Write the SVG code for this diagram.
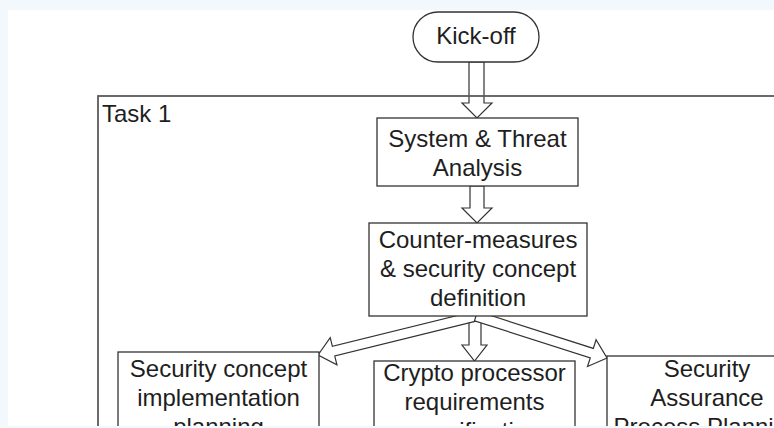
<svg xmlns="http://www.w3.org/2000/svg" width="774" height="428" viewBox="0 0 774 428">
  <style>
    .box { fill: #ffffff; stroke: #333333; stroke-width: 1.3; }
    .frame { fill: none; stroke: #5a5a5a; stroke-width: 1.8; }
    .arrow { fill: #ffffff; stroke: #333333; stroke-width: 1.2; stroke-linejoin: miter; }
    text { font-family: "Liberation Sans", Arial, sans-serif; font-size: 24px; fill: #1e1e1e; }
    .c { text-anchor: middle; }
  </style>
  <defs>
    <clipPath id="page">
      <rect x="8" y="10" width="766" height="416"/>
    </clipPath>
  </defs>

  <!-- surround and page -->
  <rect x="0" y="0" width="774" height="428" fill="#f3f8fd"/>
  <rect x="8" y="10" width="766" height="416" fill="#ffffff"/>

  <g clip-path="url(#page)">
    <!-- block arrows between steps -->
    <g id="connectors">
      <path class="arrow" d="M469,62 V103 H462 L477,118 L492,103 H484 V62 Z"/>
      <path class="arrow" d="M470,186 V208 H462 L477,223 L492,208 H484 V186 Z"/>
      <path class="arrow" d="M469,316 V345 H462 L474.5,361 L487,345 H481 V316 Z"/>
      <path class="arrow" transform="translate(476,316) rotate(166.13)" d="M0,-5 H146.7 V-14 L162.7,0 L146.7,14 V5 H0 Z"/>
      <path class="arrow" transform="translate(476,316) rotate(17.78)" d="M0,-5 H121.6 V-14 L137.6,0 L121.6,14 V5 H0 Z"/>
    </g>

    <!-- task container -->
    <g id="task1">
      <rect class="frame" x="98" y="96" width="720" height="360"/>
      <text x="102" y="122">Task 1</text>
    </g>

    <g id="kickoff">
      <rect class="box" x="413" y="12" width="126" height="50" rx="25" ry="25"/>
      <text class="c" x="476" y="44">Kick-off</text>
    </g>

    <g id="threat-analysis">
      <rect class="box" x="377" y="118" width="201" height="68"/>
      <text class="c" x="477.5" y="147">System &amp; Threat</text>
      <text class="c" x="477.5" y="176">Analysis</text>
    </g>

    <g id="countermeasures">
      <rect class="box" x="369" y="223" width="218" height="93"/>
      <text class="c" x="478" y="248">Counter-measures</text>
      <text class="c" x="478" y="277">&amp; security concept</text>
      <text class="c" x="478" y="306">definition</text>
    </g>

    <g id="impl-planning">
      <rect class="box" x="118" y="352" width="201" height="100"/>
      <text class="c" x="218.5" y="377">Security concept</text>
      <text class="c" x="218.5" y="406">implementation</text>
      <text class="c" x="218.5" y="435">planning</text>
    </g>

    <g id="crypto-spec">
      <rect class="box" x="374" y="361" width="201" height="100"/>
      <text class="c" x="474.5" y="381">Crypto processor</text>
      <text class="c" x="474.5" y="410">requirements</text>
      <text class="c" x="474.5" y="439">specification</text>
    </g>

    <g id="assurance-planning">
      <rect class="box" x="607" y="356" width="200" height="100"/>
      <text class="c" x="707" y="377">Security</text>
      <text class="c" x="707" y="406">Assurance</text>
      <text class="c" x="707" y="435">Process Planning</text>
    </g>
  </g>
</svg>
